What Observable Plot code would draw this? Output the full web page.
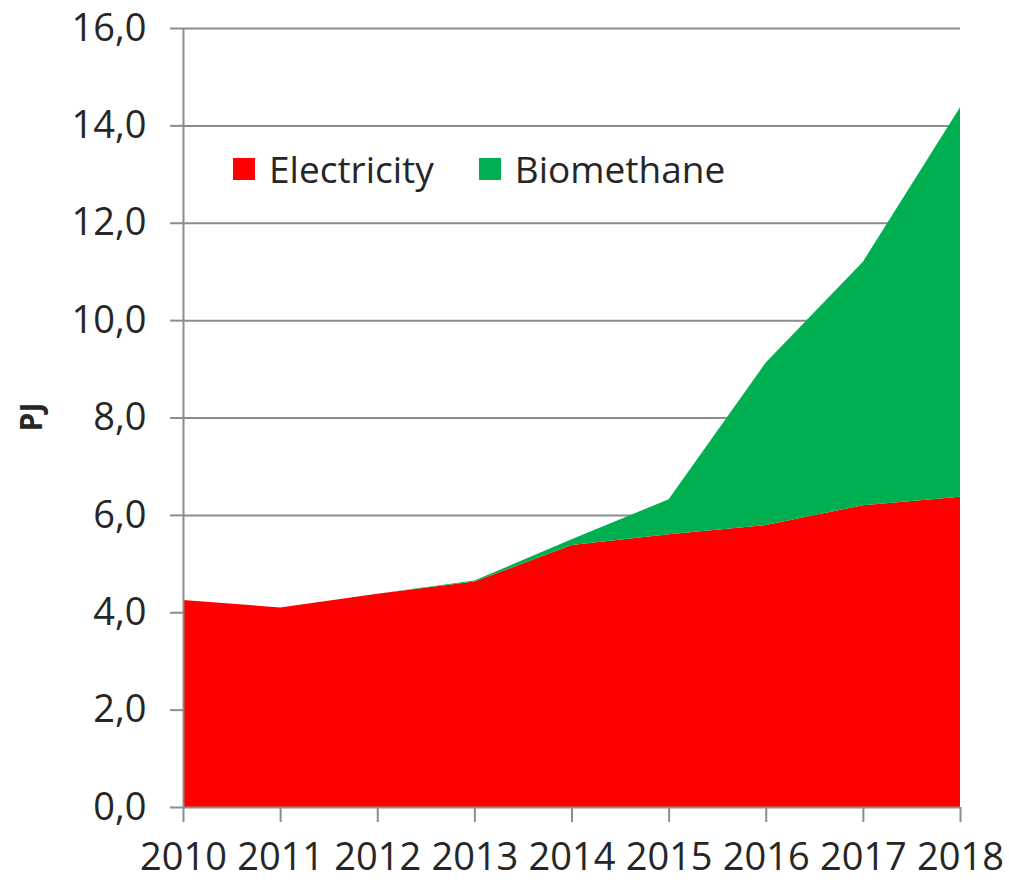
<!DOCTYPE html>
<html>
<head>
<meta charset="utf-8">
<script src="https://cdn.jsdelivr.net/npm/d3@7"></script>
<script src="https://cdn.jsdelivr.net/npm/@observablehq/plot@0.6"></script>
<style>
  body { margin: 0; background: #fff; }
  #wrap { position: relative; width: 1009px; height: 882px; font-family: "Open Sans", sans-serif; }
  .legend { position: absolute; left: 233px; top: 143px; display: flex; align-items: center; font-size: 37px; color: #262626; }
  .legend .sw { width: 22px; height: 22px; display: inline-block; margin-right: 14px; }
  .legend .item { display: flex; align-items: center; margin-right: 45px; }
  .ylab { position: absolute; left: 30px; top: 417px; transform: translate(-50%, -50%) rotate(-90deg); font-weight: bold; font-size: 30px; color: #262626; }
</style>
</head>
<body>
<div id="wrap"></div>
<script>
const years = [2010, 2011, 2012, 2013, 2014, 2015, 2016, 2017, 2018];
const electricity = [4.25, 4.10, 4.38, 4.63, 5.38, 5.60, 5.79, 6.20, 6.37];
const biomethane = [0, 0, 0, 0.02, 0.12, 0.72, 3.34, 5.00, 8.00];
const seriesNames = ["Electricity", "Biomethane"];
const seriesColors = ["#ff0000", "#00b050"];
const yTicks = [0, 2, 4, 6, 8, 10, 12, 14, 16];

const data = [];
years.forEach((y, i) => {
  data.push({year: y, series: "Electricity", value: electricity[i]});
  data.push({year: y, series: "Biomethane", value: biomethane[i]});
});

const fmt = d => d3.format(".1f")(d).replace(".", ",");

const chart = Plot.plot({
  width: 1009,
  height: 882,
  marginLeft: 183,
  marginRight: 49,
  marginTop: 28,
  marginBottom: 75,
  style: {fontFamily: "Open Sans, sans-serif", fontSize: "38px", background: "#fff", overflow: "visible"},
  x: {domain: [2010, 2018]},
  y: {domain: [0, 16]},
  color: {domain: seriesNames, range: seriesColors},
  marks: [
    Plot.ruleY(yTicks.filter(d => d > 0), {stroke: "#8c8c8c", strokeWidth: 2}),
    Plot.areaY(data, {x: "year", y: "value", fill: "series", order: seriesNames}),
    Plot.ruleX([2010], {stroke: "#8c8c8c", strokeWidth: 2}),
    Plot.ruleY([0], {stroke: "#8c8c8c", strokeWidth: 2}),
    Plot.axisY({ticks: yTicks, tickFormat: fmt, tickSize: 13, tickPadding: 24, stroke: "#8c8c8c", strokeWidth: 2, fill: "#262626", label: null}),
    Plot.axisX({ticks: years, tickFormat: d => String(d), tickSize: 15, tickPadding: 21, stroke: "#8c8c8c", strokeWidth: 2, fill: "#262626", label: null})
  ]
});

const wrap = document.getElementById("wrap");
wrap.appendChild(chart);

const legend = document.createElement("div");
legend.className = "legend";
seriesNames.forEach((n, i) => {
  const item = document.createElement("div");
  item.className = "item";
  const sw = document.createElement("span");
  sw.className = "sw";
  sw.style.background = seriesColors[i];
  const t = document.createElement("span");
  t.textContent = n;
  item.appendChild(sw);
  item.appendChild(t);
  legend.appendChild(item);
});
wrap.appendChild(legend);

const ylab = document.createElement("div");
ylab.className = "ylab";
ylab.textContent = "PJ";
wrap.appendChild(ylab);
</script>
</body>
</html>
